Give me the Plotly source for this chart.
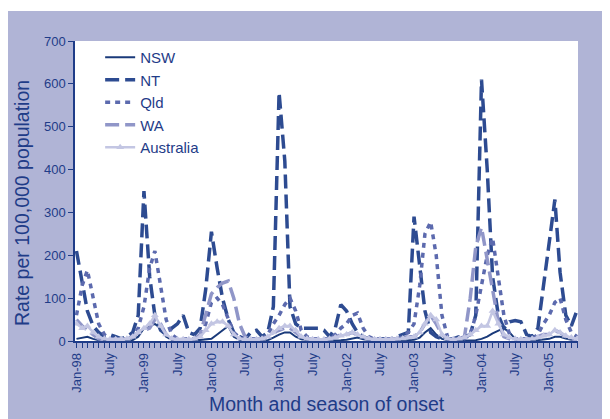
import plotly.graph_objects as go
import pandas as pd

months = pd.date_range("1998-01-01", periods=90, freq="MS").strftime("%Y-%m-%d").tolist()

nsw = [5, 8, 10, 5, 2, 1, 1, 1, 1, 1, 2, 10,
       30, 35, 40, 30, 10, 3, 2, 1, 1, 1, 2, 3,
       5, 15, 25, 35, 10, 3, 1, 1, 1, 1, 2, 8,
       15, 20, 20, 10, 4, 2, 1, 1, 1, 1, 1, 2,
       3, 5, 8, 4, 2, 1, 1, 1, 1, 1, 1, 2,
       3, 8, 20, 30, 15, 5, 2, 1, 1, 1, 1, 2,
       5, 10, 18, 25, 30, 20, 5, 2, 1, 1, 2, 3,
       5, 10, 10, 6, 3, 2]

nt = [210, 140, 70, 35, 20, 10, 15, 10, 5, 10, 20, 60,
      350, 150, 60, 25, 15, 30, 40, 60, 20, 15, 30, 120,
      255, 170, 100, 50, 20, 10, 5, 20, 25, 10, 20, 80,
      580, 420, 80, 40, 30, 30, 30, 30, 25, 10, 30, 85,
      70, 40, 20, 10, 5, 5, 5, 5, 5, 10, 15, 20,
      290, 170, 70, 20, 10, 5, 5, 5, 10, 10, 15, 60,
      610, 400, 150, 60, 30, 45, 48, 45, 15, 10, 30, 130,
      230, 330, 160, 60, 35, 72]

qld = [60, 130, 165, 100, 40, 15, 5, 5, 5, 5, 10, 30,
       80, 170, 210, 130, 50, 15, 5, 5, 5, 5, 10, 40,
       90, 100, 85, 50, 20, 8, 5, 5, 5, 5, 15, 40,
       60, 85, 100, 70, 25, 10, 5, 5, 5, 5, 15, 30,
       40, 60, 65, 30, 10, 5, 5, 5, 5, 5, 10, 20,
       40, 130, 250, 278, 200, 60, 10, 5, 5, 5, 15, 60,
       130, 200, 240, 150, 60, 15, 5, 5, 5, 5, 15, 40,
       60, 90, 100, 50, 20, 10]

wa = [50, 35, 25, 15, 5, 3, 3, 3, 3, 5, 10, 20,
      25, 30, 50, 40, 15, 5, 3, 3, 3, 5, 15, 60,
      110, 125, 135, 140, 100, 40, 10, 3, 3, 5, 10, 20,
      25, 30, 30, 20, 10, 5, 3, 3, 3, 5, 8, 15,
      15, 20, 15, 8, 5, 3, 3, 3, 3, 5, 8, 10,
      10, 20, 40, 60, 40, 15, 5, 3, 5, 10, 100, 220,
      265, 190, 110, 45, 10, 5, 3, 3, 3, 5, 10, 15,
      15, 25, 20, 10, 5, 3]

aus = [40, 30, 35, 20, 10, 5, 4, 4, 4, 5, 10, 20,
       30, 40, 60, 35, 15, 6, 4, 4, 4, 5, 10, 25,
       40, 45, 45, 35, 15, 6, 4, 4, 4, 5, 10, 20,
       30, 35, 35, 25, 10, 5, 4, 4, 4, 5, 8, 12,
       15, 20, 15, 10, 6, 4, 4, 4, 4, 5, 6, 8,
       10, 20, 40, 60, 50, 15, 6, 4, 5, 8, 15, 25,
       35, 35, 70, 40, 15, 8, 5, 4, 4, 5, 8, 12,
       15, 25, 20, 12, 8, 5]

tick_vals = months[::6]
tick_text = ["Jan-98", "July", "Jan-99", "July", "Jan-00", "July", "Jan-01", "July",
             "Jan-02", "July", "Jan-03", "July", "Jan-04", "July", "Jan-05"]

TXT = "#1f3c88"
series = [
    ("NSW", nsw, dict(color="#1a3a7a", width=2, dash="solid"), None),
    ("NT", nt, dict(color="#2d4b91", width=3.5, dash="14px,6px"), None),
    ("Qld", qld, dict(color="#5c6aae", width=3.5, dash="5px,5px"), None),
    ("WA", wa, dict(color="#9096c8", width=3.5, dash="14px,6px"), None),
    ("Australia", aus, dict(color="#c3c6e3", width=2.5, dash="solid"),
     dict(symbol="triangle-up", size=7, color="#c3c6e3")),
]

fig = go.Figure()
for name, vals, line, marker in series:
    fig.add_trace(go.Scatter(
        x=months, y=vals, name=name,
        mode="lines+markers" if marker else "lines",
        line=line, marker=marker,
    ))

W, H = 602, 411
PH = 300.0
PW = 503.0
fig.update_layout(
    width=W, height=H,
    margin=dict(l=67, r=32, t=33, b=78),
    paper_bgcolor="#b0b4d6",
    plot_bgcolor="white",
    font=dict(family="Liberation Sans, Arial, sans-serif", color=TXT, size=13),
    showlegend=True,
    legend=dict(x=0.05, y=1.0, xanchor="left", yanchor="top",
                bgcolor="rgba(0,0,0,0)", font=dict(size=15, color=TXT)),
    xaxis=dict(
        type="date", automargin=False,
        range=["1997-12-24", "2005-06-06"],
        tickmode="array", tickvals=tick_vals, ticktext=tick_text,
        tickangle=-90, tickfont=dict(size=13, color=TXT),
        ticks="outside", ticklen=5, tickcolor=TXT,
        minor=dict(dtick="M1", tick0="1998-01-01", ticks="outside", ticklen=5, tickcolor=TXT),
        showline=True, linecolor=TXT, linewidth=1.5,
        showgrid=False, zeroline=False,
    ),
    yaxis=dict(
        automargin=False,
        range=[0, 700], dtick=100,
        ticks="outside", ticklen=5, tickcolor=TXT,
        tickfont=dict(size=13, color=TXT),
        showline=True, linecolor=TXT, linewidth=1.5,
        showgrid=False, zeroline=False,
    ),
    annotations=[
        dict(text="Rate per 100,000 population", xref="paper", yref="paper",
             x=(14 - 67) / PW, y=(333 - 195) / PH, xanchor="center", yanchor="middle",
             textangle=-90, showarrow=False, font=dict(size=19.5, color=TXT)),
        dict(text="Month and season of onset", xref="paper", yref="paper",
             x=(319 - 67) / PW, y=(333 - 396) / PH, xanchor="center", yanchor="middle",
             showarrow=False, font=dict(size=19.5, color=TXT)),
    ],
    shapes=[
        dict(type="rect", xref="paper", yref="paper", x0=-0.2, x1=1.1,
             y0=1 + 30 / PH, y1=1 + 40 / PH, fillcolor="white", line_width=0, layer="above"),
    ],
)

fig.write_html("out.html")
